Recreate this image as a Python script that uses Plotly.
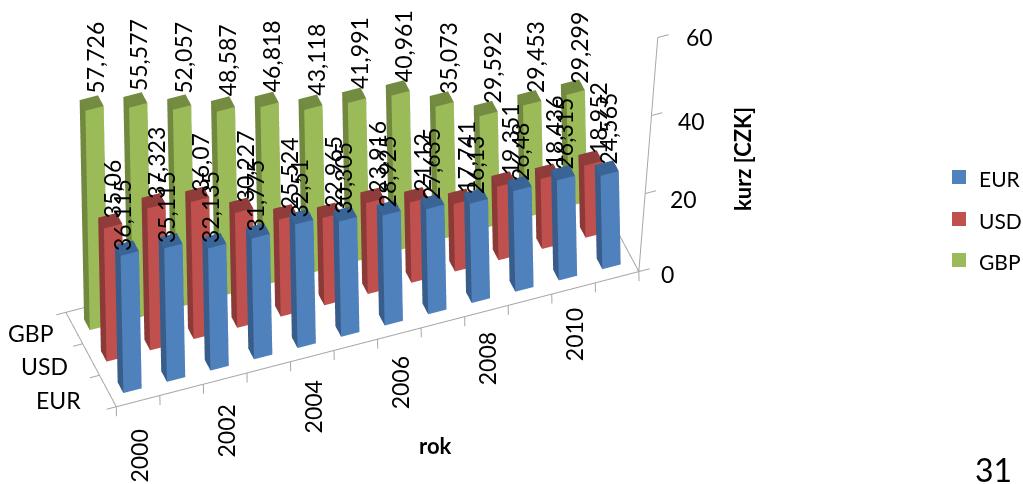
import numpy as np
import plotly.graph_objects as go

years = list(range(2000, 2012))
series_names = ["EUR", "USD", "GBP"]
eur = [36.115, 35.115, 32.135, 31.775, 32.51, 30.305, 28.925, 27.635, 26.13, 26.48, 26.315, 24.565]
usd = [35.06, 37.323, 36.07, 30.227, 25.524, 22.965, 23.916, 21.12, 17.741, 19.351, 18.436, 18.952]
gbp = [57.726, 55.577, 52.057, 48.587, 46.818, 43.118, 41.991, 40.961, 35.073, 29.592, 29.453, 29.299]
z_ticks = [0, 20, 40, 60]
values = [eur, usd, gbp]
front = ["#4F81BD", "#C0504D", "#9BBB59"]
side = ["#385D8A", "#8C3A38", "#71893F"]
top = ["#3A6496", "#8F3C3A", "#748C42"]
FONT = "Lato"
GRAY = "#A6A6A6"

XR = (-1, 13); YR = (-1, 4); ZR = (-6, 66)
SCALE = 2.68
CTR = np.array([-0.0227, -0.1459, 0.0])*SCALE
VIEW = np.array([-0.2105, -0.6062, 0.6010])
EYE = CTR + VIEW*5
UP = (0.0725, 0.1569, 1.0)
AR = (1.0*SCALE, 0.3798*SCALE, 0.5781*SCALE)
AXIS_LEAN = 0.009  # the value axis leans outwards, as in the reference

traces=[]
BW=.42; BD=.34
for s,vals in enumerate(values):
    xs,ys,zs,I,J,K,fc=[],[],[],[],[],[],[]
    for i,v in enumerate(vals):
        x0,x1=i+.5-BW/2,i+.5+BW/2
        y0,y1=s+.5-BD/2,s+.5+BD/2
        b=len(xs)
        xs+=[x0,x1,x1,x0,x0,x1,x1,x0]; ys+=[y0,y0,y1,y1,y0,y0,y1,y1]; zs+=[0,0,0,0,v,v,v,v]
        for a,bb,cc,col in [(0,1,5,front[s]),(0,5,4,front[s]),(0,3,7,side[s]),(0,7,4,side[s]),(4,5,6,top[s]),(4,6,7,top[s]),
                           (1,2,6,side[s]),(1,6,5,side[s]),(3,2,6,side[s]),(3,6,7,side[s])]:
            I.append(b+a);J.append(b+bb);K.append(b+cc);fc.append(col)
    traces.append(go.Mesh3d(x=xs,y=ys,z=zs,i=I,j=J,k=K,facecolor=fc,flatshading=True,name=series_names[s],hoverinfo="skip",
        lighting=dict(ambient=1,diffuse=0,specular=0,roughness=1,fresnel=0)))
lx,ly,lz=[],[],[]
def seg(a,b):
    lx.extend([a[0],b[0],None]);ly.extend([a[1],b[1],None]);lz.extend([a[2],b[2],None])
seg((0,0,0),(12,0,0));seg((0,0,0),(0,3,0));seg((12,0,0),(12,3,0));seg((0,3,0),(12,3,0))
seg((12,0,0),(12+AXIS_LEAN*60,0,60))
for i in range(13): seg((i,0,0),(i,0,-2.5))
for i in range(4): seg((0,i,0),(-.22,i,0))
for z in z_ticks: seg((12+AXIS_LEAN*z,0,z),(12.25+AXIS_LEAN*z,0,z))
traces.append(go.Scatter3d(x=lx,y=ly,z=lz,mode="lines",line=dict(color=GRAY,width=2),hoverinfo="skip",showlegend=False))

ann=[]
label_dx=[(-5,2),(2,8),(3,7)]
label_dy=[(-5,2),(0,2),(7,2)]
for s,vals in enumerate(values):
    for i,v in enumerate(vals):
        t=i/11
        ann.append(dict(x=i+.5,y=s+.5,z=v,text=f"{v:g}".replace(".",","),textangle=-90,showarrow=False,
            xanchor="center",yanchor="bottom",
            xshift=label_dx[s][0]+(label_dx[s][1]-label_dx[s][0])*t,
            yshift=label_dy[s][0]+(label_dy[s][1]-label_dy[s][0])*t,
            font=dict(family=FONT,size=23,color="#000")))
for i,y in enumerate(years):
    if i%2==0:
        ann.append(dict(x=i+.5,y=0,z=0,text=str(y),textangle=-90,showarrow=False,xanchor="center",yanchor="top",
            xshift=1,yshift=-26+i*.8,font=dict(family=FONT,size=23,color="#000")))
series_dx=[-25,-21,-18]; series_dy=[-9,-6,-5]
for s,n in enumerate(series_names):
    ann.append(dict(x=0,y=s+.5,z=0,text=n,showarrow=False,xanchor="right",yanchor="middle",xshift=series_dx[s],yshift=series_dy[s],font=dict(family=FONT,size=23,color="#000")))
tick_dy=[-2,-5,-5,1]
for z,dy in zip(z_ticks,tick_dy):
    ann.append(dict(x=12+AXIS_LEAN*z,y=0,z=z,text=str(z),showarrow=False,xanchor="left",yanchor="middle",xshift=21+z*.1,yshift=dy,font=dict(family=FONT,size=23,color="#000")))

shapes=[];pa=[]
for n,c,yy in zip(series_names,front,[177,219,260]):
    shapes.append(dict(type="rect",xref="paper",yref="paper",x0=952/1023,x1=966/1023,y0=1-(yy+7)/484,y1=1-(yy-7)/484,fillcolor=c,line=dict(width=0)))
    pa.append(dict(xref="paper",yref="paper",x=977/1023,y=1-(yy+1)/484,text=n,showarrow=False,xanchor="left",yanchor="middle",font=dict(family=FONT,size=21,color="#000")))
pa.append(dict(xref="paper",yref="paper",x=435/1023,y=1-445/484,text="<b>rok</b>",showarrow=False,xanchor="center",yanchor="middle",font=dict(family=FONT,size=22,color="#000")))
pa.append(dict(xref="paper",yref="paper",x=742/1023,y=1-159/484,text="<b>kurz [CZK]</b>",textangle=-90,showarrow=False,xanchor="center",yanchor="middle",font=dict(family=FONT,size=22,color="#000")))
pa.append(dict(xref="paper",yref="paper",x=993/1023,y=1-469/484,text="31",showarrow=False,xanchor="center",yanchor="middle",font=dict(family=FONT,size=32,color="#000")))

ax=dict(visible=False,showgrid=False,zeroline=False,showspikes=False)
fig=go.Figure(traces)
fig.update_layout(width=1023,height=484,margin=dict(l=0,r=0,t=0,b=0),paper_bgcolor="white",showlegend=False,shapes=shapes,annotations=pa,
 scene=dict(domain=dict(x=[0,.72],y=[0,1]),bgcolor="white",aspectmode="manual",aspectratio=dict(x=AR[0],y=AR[1],z=AR[2]),
  xaxis=dict(ax,range=list(XR)),yaxis=dict(ax,range=list(YR)),zaxis=dict(ax,range=list(ZR)),annotations=ann,
  camera=dict(eye=dict(x=float(EYE[0]),y=float(EYE[1]),z=float(EYE[2])),center=dict(x=float(CTR[0]),y=float(CTR[1]),z=0),up=dict(x=UP[0],y=UP[1],z=UP[2]),projection=dict(type="orthographic"))))
fig.write_html("out.html", config=dict(displayModeBar=False), post_script="document.body.style.margin='0';document.documentElement.style.overflow='hidden';")
